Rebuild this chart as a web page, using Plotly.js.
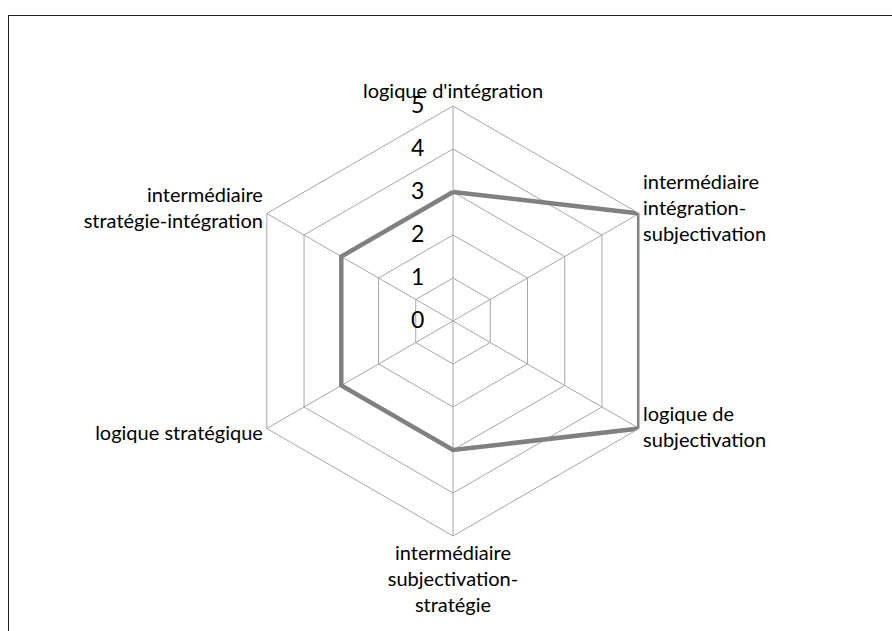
<!DOCTYPE html>
<html>
<head>
<meta charset="utf-8">
<script src="https://cdn.plot.ly/plotly-3.0.1.min.js"></script>
<style>
  body { margin: 0; background: #fff; }
  #frame { position: absolute; left: 8px; top: 15px; width: 900px; height: 630px;
           border-left: 1.5px solid #222; border-top: 1.5px solid #222; }
  #chart { position: absolute; left: 0; top: 0; width: 892px; height: 631px; }
</style>
</head>
<body>
<div id="frame"></div>
<div id="chart"></div>
<script>
const categories = [
  "logique d'intégration",
  "intermédiaire intégration-subjectivation",
  "logique de subjectivation",
  "intermédiaire subjectivation-stratégie",
  "logique stratégique",
  "intermédiaire stratégie-intégration"
];
// tick labels as wrapped in the original (blank lines only nudge Plotly's anchoring)
const tickLabels = [
  "logique d'intégration",
  "<br><br>intermédiaire<br>intégration-<br>subjectivation",
  "logique de<br>subjectivation<br><br><br>",
  "intermédiaire<br>subjectivation-<br>stratégie",
  "logique stratégique<br>",
  "<br>intermédiaire<br>stratégie-intégration"
];
const values = [3, 5, 5, 3, 3, 3];
const radialTicks = [0, 1, 2, 3, 4, 5];

const drawRadar = () => {
  const data = [{
    type: "scatterpolar",
    r: values.concat([values[0]]),
    theta: categories.concat([categories[0]]),
    mode: "lines",
    line: {color: "#808080", width: 4.5},
    hoverinfo: "skip"
  }];

  const layout = {
    width: 892,
    height: 631,
    margin: {l: 0, r: 0, t: 0, b: 0},
    paper_bgcolor: "rgba(0,0,0,0)",
    plot_bgcolor: "rgba(0,0,0,0)",
    showlegend: false,
    font: {family: "Lato, 'Open Sans', sans-serif", color: "#000", size: 20},
    polar: {
      domain: {x: [0.2668, 0.7489], y: [0.1506, 0.8320]},
      gridshape: "linear",
      bgcolor: "rgba(0,0,0,0)",
      angularaxis: {
        type: "category",
        categoryarray: categories,
        rotation: 90,
        direction: "clockwise",
        tickmode: "array",
        tickvals: categories,
        ticktext: tickLabels,
        showline: true,
        linecolor: "#a6a6a6",
        linewidth: 1,
        gridcolor: "#a6a6a6",
        ticks: "",
        tickfont: {size: 20}
      },
      radialaxis: {
        range: [0, 5],
        angle: 90,
        tickangle: 90,
        side: "counterclockwise",
        tickvals: radialTicks,
        showline: false,
        gridcolor: "#a6a6a6",
        ticks: "outside",
        ticklen: 20,
        tickcolor: "rgba(0,0,0,0)",
        tickfont: {size: 23}
      }
    }
  };

  Plotly.newPlot("chart", data, layout, {staticPlot: true});
}

drawRadar();
</script>
</body>
</html>
